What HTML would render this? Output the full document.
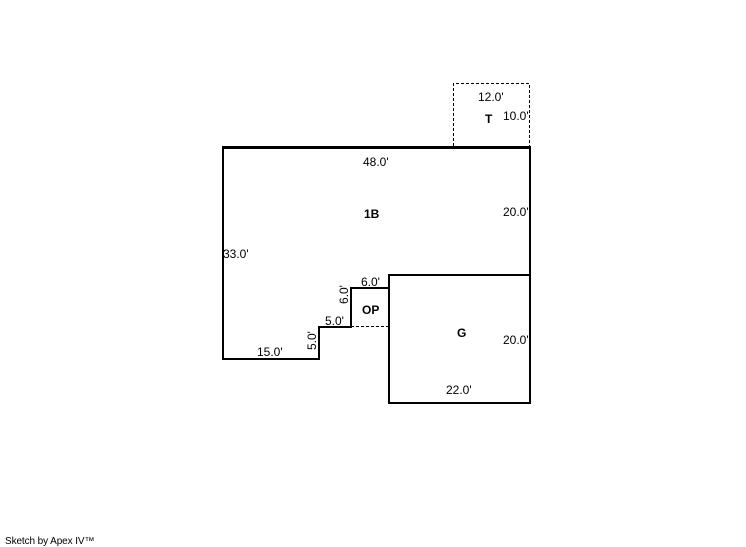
<!DOCTYPE html>
<html>
<head>
<meta charset="utf-8">
<style>
html,body{margin:0;padding:0;background:#fff;}
svg{display:block;}
text{font-family:"Liberation Sans",sans-serif;font-size:12px;fill:#000;}
.b{font-weight:bold;}
</style>
</head>
<body>
<svg width="746" height="547" viewBox="0 0 746 547" xmlns="http://www.w3.org/2000/svg">
<rect width="746" height="547" fill="#fff"/>
<path d="M453.5 146V83.5H529.5V146" fill="none" stroke="#000" stroke-width="1" stroke-dasharray="3 2"/>
<path d="M351 326.5H389" fill="none" stroke="#000" stroke-width="1" stroke-dasharray="3 2"/>
<path d="M222 147.5H531" fill="none" stroke="#000" stroke-width="3"/>
<path d="M223 147V359M222 359H319V327H351V288H389M389 275H530M389 274V403H530V147" fill="none" stroke="#000" stroke-width="2"/>
<text x="478" y="101">12.0'</text>
<text x="503" y="120">10.0'</text>
<text class="b" x="485" y="123">T</text>
<text x="363" y="166">48.0'</text>
<text class="b" x="364" y="218">1B</text>
<text x="503" y="216">20.0'</text>
<text x="223" y="258">33.0'</text>
<text x="361" y="286">6.0'</text>
<text x="325" y="325">5.0'</text>
<text class="b" x="362" y="314">OP</text>
<text class="b" x="457" y="337">G</text>
<text x="503" y="344">20.0'</text>
<text x="446" y="394">22.0'</text>
<text x="257" y="356">15.0'</text>
<text transform="translate(348,304) rotate(-90)">6.0'</text>
<text transform="translate(316,350) rotate(-90)">5.0'</text>
<text x="5" y="544" style="font-size:10px;letter-spacing:-.1px">Sketch by Apex IV™</text>
</svg>
</body>
</html>
